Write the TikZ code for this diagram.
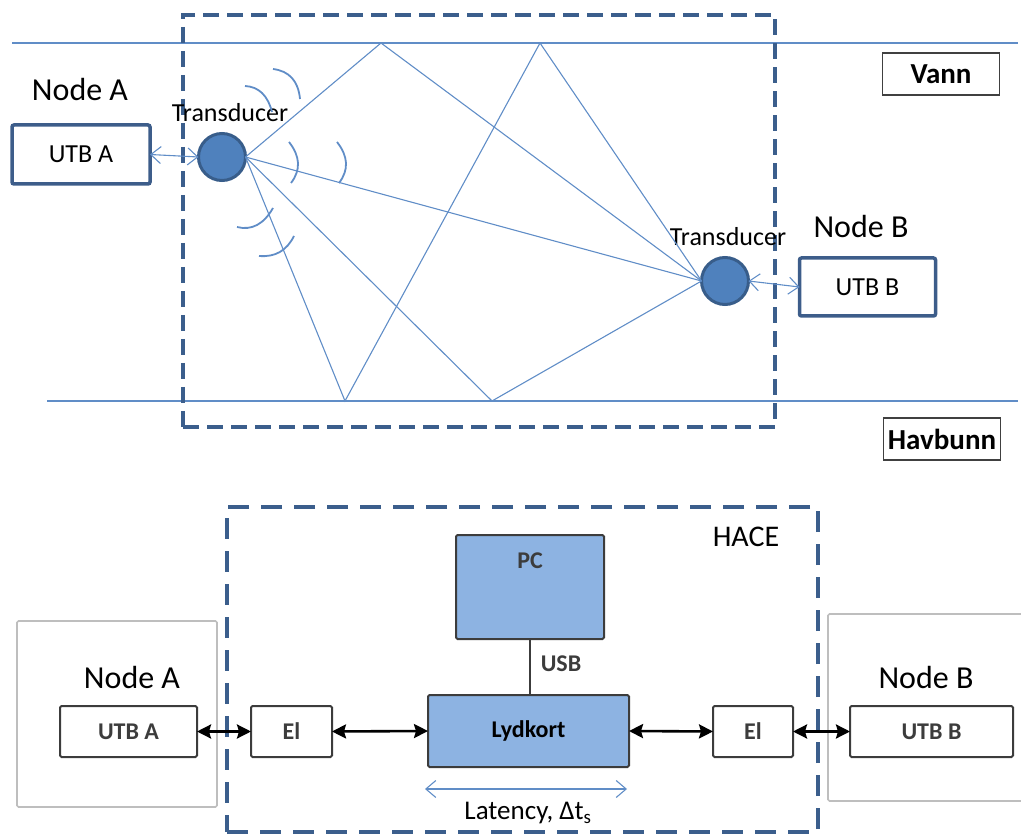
\documentclass[tikz,border=0pt]{standalone}
\usepackage{fontspec}
\setmainfont{Carlito}
\usetikzlibrary{arrows.meta}
\definecolor{dashblue}{RGB}{59,94,140}
\definecolor{rayblue}{RGB}{96,141,199}
\definecolor{circfill}{RGB}{79,129,189}
\definecolor{circline}{RGB}{56,93,138}
\definecolor{boxblue}{RGB}{61,93,138}
\definecolor{lightfill}{RGB}{141,179,226}
\definecolor{txtgray}{RGB}{60,60,60}
\definecolor{outergray}{RGB}{190,190,190}
\begin{document}
\begin{tikzpicture}[x=1pt,y=-1pt,
  ray/.style={draw=rayblue, line width=1.1pt},
  wave/.style={draw=rayblue, line width=1.8pt},
  dashframe/.style={draw=dashblue, line width=3.2pt, dash pattern=on 16pt off 8pt, inner sep=0pt, outer sep=0pt},
  hacedash/.style={dashframe, line width=3.5pt, dash pattern=on 21pt off 12pt},
  topbox/.style={draw=boxblue, line width=3.5pt, rounded corners=2pt, inner sep=0pt, outer sep=0pt, font={\fontsize{26}{26}\selectfont}},
  tagbox/.style={draw=black!75, line width=1.3pt, inner sep=0pt, outer sep=0pt, minimum width=117pt, font={\fontsize{29}{29}\selectfont\bfseries}},
  tdc/.style={circle, fill=circfill, draw=circline, line width=3pt, minimum size=47pt, inner sep=0pt, outer sep=0pt},
  lbl/.style={inner sep=0pt, font={\fontsize{#1}{#1}\selectfont}},
  outerbox/.style={draw=outergray, line width=1.6pt, rounded corners=1.5pt, inner sep=0pt, outer sep=0pt},
  blkbox/.style={draw=txtgray, line width=2pt, rounded corners=1.5pt, inner sep=0pt, outer sep=0pt, text=txtgray, font={\fontsize{24}{24}\selectfont\bfseries}},
  bluebox/.style={blkbox, fill=lightfill},
  barb/.style={ray, {Straight Barb[length=10pt,width=17pt]}-{Straight Barb[length=10pt,width=17pt]}},
  blk/.style={draw=black, line width=2.6pt, {Stealth[length=14pt,width=14pt,inset=2pt]}-{Stealth[length=14pt,width=14pt,inset=2pt]}}
]
\useasboundingbox (0,0) rectangle (1021,834);

% ---------------- top diagram ----------------
\coordinate (wl) at (12,43);
\coordinate (wr) at (1018,43);
\coordinate (bl) at (47,401);
\coordinate (br) at (1018,401);
\draw[ray, line width=1.3pt] (wl) -- (wr);
\draw[ray, line width=1.3pt] (bl) -- (br);

\node[dashframe, minimum width=592pt, minimum height=412pt] (frame) at (479,221) {};

\node[tagbox, minimum height=42pt] (vann) at (941,74) {Vann};
\node[tagbox, minimum height=42pt] (havbunn) at (942,439) {Havbunn};

\node[lbl=32] (nodeA) at (80,90) {Node A};
\node[topbox, minimum width=138pt, minimum height=59pt] (utbA) at (81,154.5) {UTB A};
\node[tdc] (ta) at (222,157) {};
\node[lbl=26] (tla) at (230,113) {Transducer};

\node[lbl=32] (nodeB) at (861,227) {Node B};
\node[topbox, minimum width=136pt, minimum height=58pt] (utbB) at (867.5,287) {UTB B};
\node[tdc] (tb) at (725,281) {};
\node[lbl=26] (tlb) at (728,237) {Transducer};

\draw[barb] (utbA.east) -- (ta.west);
\draw[barb] (tb.east) -- (utbB.west);

\coordinate (s1) at (381,43);
\coordinate (s2) at (540,43);
\coordinate (b1) at (345,401);
\coordinate (b2) at (492,401);
\draw[ray] (ta.east) -- (s1) -- (tb.west);
\draw[ray] (ta.east) -- (b1) -- (s2) -- (tb.west);
\draw[ray] (ta.east) -- (b2) -- (tb.west);
\draw[ray] (ta.east) -- (tb.west);

% wave fronts
\draw[wave] (245,86) .. controls (258.7,86.7) and (267.7,95.3) .. (272,112);
\draw[wave] (273,69) .. controls (289.3,71) and (298.3,81) .. (300,99);
\draw[wave] (289,142) .. controls (300.3,156.3) and (301,170) .. (291,183);
\draw[wave] (337,142) .. controls (348.3,156.3) and (349,170) .. (339,183);
\draw[wave] (237,227) .. controls (251.7,230.7) and (263.7,224.3) .. (273,208);
\draw[wave] (259,256) .. controls (275.3,257.3) and (286.7,250.7) .. (294,236);

% ---------------- bottom diagram ----------------
\node[outerbox, minimum width=200pt, minimum height=186pt] (outA) at (117,714) {};
\node[outerbox, minimum width=214pt, minimum height=187pt] (outB) at (935,707.5) {};
\node[hacedash, minimum width=591pt, minimum height=325pt] (hace) at (522.5,669.5) {};
\node[lbl=30] (hacelbl) at (746,537) {HACE};

\node[lbl=32] (nodeA2) at (132,677) {Node A};
\node[lbl=32] (nodeB2) at (926,677) {Node B};

\node[blkbox, minimum width=137pt, minimum height=51pt] (utbA2) at (128.5,731.5) {UTB A};
\node[blkbox, minimum width=81pt, minimum height=51pt] (elA) at (291.5,731.5) {El};
\node[bluebox, minimum width=201pt, minimum height=72pt, text=black] (lyd) at (528.5,731) {Lydkort};
\node[bluebox, minimum width=148pt, minimum height=104pt] (pc) at (530,587) {};
\node[lbl=24, text=txtgray, font={\fontsize{24}{24}\selectfont\bfseries}] (pclbl) at (530,561) {PC};
\node[blkbox, minimum width=80pt, minimum height=51pt] (elB) at (753,731.5) {El};
\node[blkbox, minimum width=163pt, minimum height=51pt] (utbB2) at (931.5,731.5) {UTB B};

\draw[draw=txtgray, line width=1.6pt] (pc.south) -- (pc.south |- lyd.north);
\node[lbl=24, text=txtgray, font={\fontsize{24}{24}\selectfont\bfseries}] (usb) at (561,664) {USB};

\draw[blk] (utbA2.east) -- (elA.west);
\draw[blk] (elA.east) -- (lyd.west);
\draw[blk] (lyd.east) -- (elB.west);
\draw[blk] (elB.east) -- (utbB2.west);

\coordinate (lat1) at (425,789);
\coordinate (lat2) at (627,789);
\draw[barb] (lat1) -- (lat2);
\node[lbl=27] (latlbl) at (528,813) {Latency, Δt\textsubscript{s}};
\end{tikzpicture}
\end{document}
